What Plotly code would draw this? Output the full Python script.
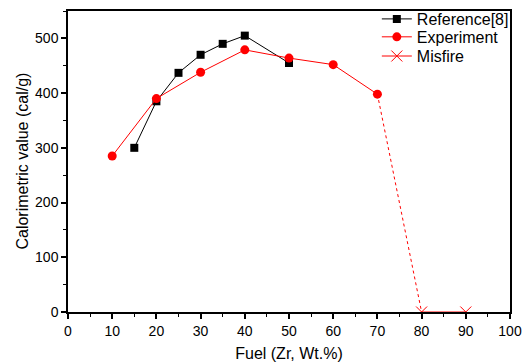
import plotly.graph_objects as go

ref_x = [15, 20, 25, 30, 35, 40, 50]
ref_y = [300, 385, 437, 470, 490, 505, 455]
exp_x = [10, 20, 30, 40, 50, 60, 70]
exp_y = [285, 390, 438, 479, 464, 452, 398]
mis_x = [80, 90]
mis_y = [0, 0]
link_x = [70, 80]
link_y = [398, 0]

FONT = "Liberation Sans, Arial"

fig = go.Figure()
fig.add_trace(go.Scatter(x=link_x, y=link_y, mode="lines", showlegend=False,
                         line=dict(color="red", width=1, dash="dot")))
fig.add_trace(go.Scatter(x=ref_x, y=ref_y, mode="lines+markers", name="Reference[8]",
                         line=dict(color="black", width=1), legend="legend",
                         marker=dict(symbol="square", size=8, color="black")))
fig.add_trace(go.Scatter(x=exp_x, y=exp_y, mode="lines+markers", name="Experiment",
                         line=dict(color="red", width=1), legend="legend2",
                         marker=dict(symbol="circle", size=9, color="red")))
fig.add_trace(go.Scatter(x=mis_x, y=mis_y, mode="lines+markers", name="Misfire",
                         line=dict(color="red", width=1), legend="legend3",
                         marker=dict(symbol="x-thin", size=11, line=dict(color="red", width=1))))

axis_common = dict(showline=True, linecolor="black", linewidth=1.5, mirror=True,
                   ticks="outside", ticklen=5, tickwidth=1.5, tickcolor="black",
                   showgrid=False, zeroline=False, automargin=False,
                   tickfont=dict(family=FONT, size=14, color="black"),
                   minor=dict(ticks="outside", ticklen=3, tickwidth=1, tickcolor="black"))

fig.update_xaxes(range=[0, 100], dtick=10, minor_dtick=5,
                 title=dict(text="Fuel (Zr, Wt.%)", font=dict(family=FONT, size=16, color="black")),
                 **axis_common)
fig.update_yaxes(range=[0, 550], dtick=100, minor_dtick=50, **axis_common)

fig.add_annotation(text="Calorimetric value (cal/g)", xref="paper", yref="paper",
                   x=-0.104, y=0.5, xanchor="center", yanchor="middle", textangle=-90,
                   showarrow=False, font=dict(family=FONT, size=16, color="black"))

leg = dict(xanchor="left", yanchor="middle", xref="container", yref="container",
           bgcolor="rgba(0,0,0,0)", font=dict(family=FONT, size=16, color="black"))
fig.update_layout(width=530, height=362,
                  margin=dict(l=68, r=20, t=11, b=50, autoexpand=False),
                  plot_bgcolor="white", paper_bgcolor="white",
                  legend=dict(x=0.711, y=0.9475, **leg),
                  legend2=dict(x=0.711, y=0.898, **leg),
                  legend3=dict(x=0.711, y=0.845, **leg))
fig.write_html("out.html")
